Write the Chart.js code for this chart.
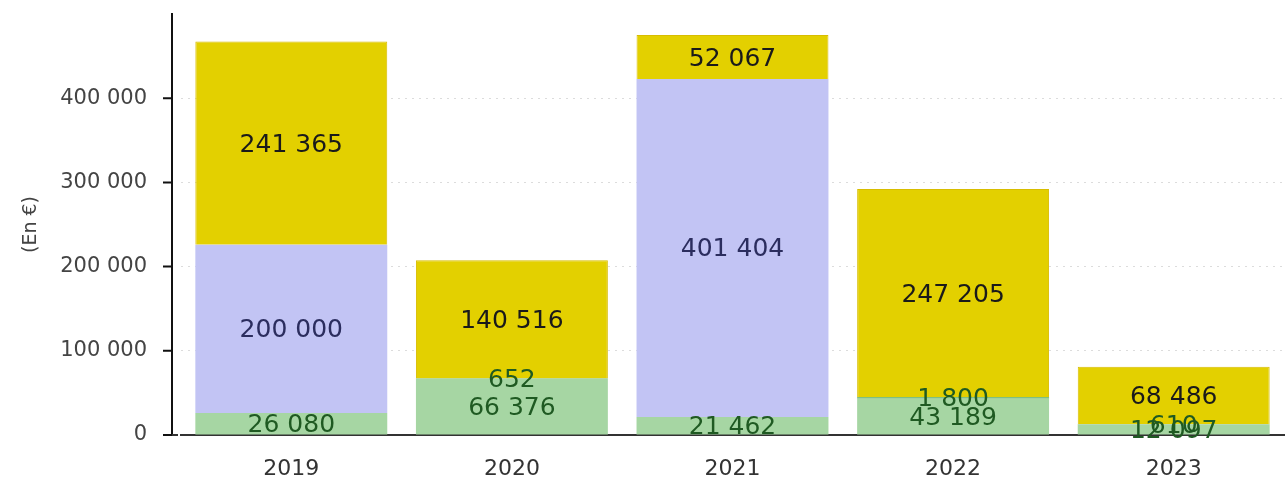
<!DOCTYPE html>
<html>
<head>
<meta charset="utf-8">
<script src="https://cdn.jsdelivr.net/npm/chart.js@4"></script>
<style>
  html, body { margin: 0; padding: 0; background: #ffffff; }
  #wrap { width: 1287px; height: 477px; position: relative; }
</style>
</head>
<body>
<div id="wrap"><canvas id="c"></canvas></div>
<script>
// ---- Data ----
const categories = ['2019', '2020', '2021', '2022', '2023'];
const greenValues    = [26080, 66376, 21462, 43189, 12097];
const smallValues    = [0, 652, 0, 1800, 610];
const lavenderValues = [200000, 0, 401404, 0, 0];
const yellowValues   = [241365, 140516, 52067, 247205, 68486];
const yTickValues    = [0, 100000, 200000, 300000, 400000];
const yMax = 500000;
const yTitle = '(En €)';

function fmt(v) {
  return String(v).replace(/\B(?=(\d{3})+(?!\d))/g, ' ');
}

const labelColors = ['#1f5a22', '#1f5a22', '#2b2d5e', '#1a1a1a'];

// value labels inside segments
const valueLabels = {
  id: 'valueLabels',
  afterDatasetsDraw(chart) {
    const ctx = chart.ctx;
    ctx.save();
    ctx.font = '25px "DejaVu Sans"';
    ctx.textAlign = 'center';
    ctx.textBaseline = 'middle';
    chart.data.datasets.forEach((ds, di) => {
      const meta = chart.getDatasetMeta(di);
      meta.data.forEach((bar, i) => {
        const v = ds.data[i];
        if (!v) return;
        const yc = (bar.y + bar.base) / 2;
        ctx.fillStyle = labelColors[di];
        ctx.fillText(fmt(v), bar.x, yc + 2);
      });
    });
    ctx.restore();
  }
};

// y axis line drawn slightly left of the plot, with tick marks
const yAxisLine = {
  id: 'yAxisLine',
  afterDraw(chart) {
    const ctx = chart.ctx;
    const ys = chart.scales.y;
    const ax = chart.chartArea.left - 9;
    const y0 = ys.getPixelForValue(0);
    const yTop = ys.getPixelForValue(yMax);
    ctx.save();
    ctx.strokeStyle = '#111';
    ctx.lineWidth = 2;
    ctx.beginPath();
    ctx.moveTo(ax, yTop - 1);
    ctx.lineTo(ax, y0 + 1);
    yTickValues.forEach(v => {
      const py = ys.getPixelForValue(v);
      ctx.moveTo(ax - 9, py);
      ctx.lineTo(ax, py);
    });
    ctx.stroke();
    ctx.setLineDash([6, 3]);
    ctx.strokeStyle = '#333';
    ctx.beginPath();
    ctx.moveTo(ax, y0);
    ctx.lineTo(chart.chartArea.left, y0);
    ctx.stroke();
    ctx.restore();
  }
};

new Chart(document.getElementById('c'), {
  type: 'bar',
  data: {
    labels: categories,
    datasets: [
      { label: 'A', data: greenValues,    backgroundColor: '#a6d6a3' },
      { label: 'B', data: smallValues,    backgroundColor: '#7fbf7f' },
      { label: 'C', data: lavenderValues, backgroundColor: '#c2c4f4' },
      { label: 'D', data: yellowValues,   backgroundColor: '#e3d000', borderColor: '#d8bd00', borderWidth: 1 }
    ]
  },
  options: {
    responsive: true,
    maintainAspectRatio: false,
    animation: false,
    layout: { padding: { top: 14, right: 3, left: 0, bottom: 0 } },
    plugins: { legend: { display: false }, tooltip: { enabled: false }, title: { display: false } },
    datasets: { bar: { categoryPercentage: 1.0, barPercentage: 0.87 } },
    scales: {
      x: {
        stacked: true,
        grid: { display: false },
        border: { display: true, color: '#333', width: 2, dash: [6, 3] },
        ticks: { color: '#333', font: { family: 'DejaVu Sans', size: 22 }, padding: 13 },
        afterFit(scale) { scale.height = 42; }
      },
      y: {
        stacked: true,
        min: 0,
        max: yMax,
        afterBuildTicks(scale) {
          scale.ticks = yTickValues.concat([yMax]).map(v => ({ value: v }));
        },
        ticks: {
          color: '#444',
          font: { family: 'DejaVu Sans', size: 21 },
          padding: 34,
          callback: (v) => (v === yMax ? '' : fmt(v))
        },
        grid: {
          drawTicks: false,
          lineWidth: 1,
          color: (c) => (c.tick && (c.tick.value === 0 || c.tick.value === yMax)) ? 'rgba(0,0,0,0)' : '#dcdcdc'
        },
        border: { display: false, dash: [2, 5] },
        title: {
          display: true,
          text: yTitle,
          color: '#444',
          font: { family: 'DejaVu Sans', size: 19 },
          padding: { top: 20, bottom: 0 }
        },
        afterFit(scale) {
          scale.width = 181;
          scale.paddingTop = 0;
          scale.paddingBottom = 0;
        }
      }
    }
  },
  plugins: [valueLabels, yAxisLine]
});
</script>
</body>
</html>
